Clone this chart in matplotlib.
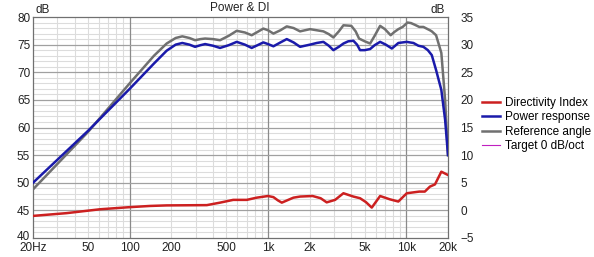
import matplotlib
matplotlib.use("Agg")
import matplotlib.pyplot as plt
from matplotlib.lines import Line2D
from matplotlib.transforms import ScaledTranslation

plt.rcParams['font.family'] = ['Liberation Sans', 'DejaVu Sans']

# Power response (left axis, dB)
pw_f = [20, 50, 100, 150, 185, 215, 240, 270, 297, 325, 351, 400, 450, 520, 594, 680, 762, 840, 925, 1000, 1094, 1230, 1366, 1530,
        1705, 1850, 2013, 2250, 2513, 2750, 2968, 3250, 3508, 3800, 4140, 4400, 4625, 5000, 5470, 5900, 6460, 7100, 7850, 8300, 8750,
        9400, 10070, 10600, 11250, 12220, 13280, 14300, 15270, 16400, 17900, 19060, 20000]
pw_db = [50.0, 59.4, 67.0, 71.6, 73.9, 75.0, 75.3, 75.0, 74.6, 74.9, 75.1, 74.8, 74.4, 74.9, 75.5, 75.0, 74.4, 74.9, 75.4, 75.1, 74.7, 75.4, 76.0, 75.4,
         74.6, 74.8, 75.0, 75.3, 75.5, 74.8, 74.0, 74.6, 75.2, 75.6, 75.7, 75.0, 74.0, 74.0, 74.2, 74.9, 75.5, 75.0, 74.3, 74.8, 75.3,
         75.4, 75.5, 75.4, 75.3, 74.8, 74.6, 74.0, 73.1, 70.4, 66.8, 61.4, 55.0]

# Reference angle (left axis, dB)
ref_f = [20, 50, 100, 150, 185, 215, 240, 270, 297, 325, 351, 400, 450, 520, 594, 680, 762, 840, 925, 1000, 1094, 1230, 1366, 1530,
         1705, 1850, 2013, 2250, 2513, 2750, 2968, 3250, 3508, 4000, 4300, 4550, 5000, 5470, 5900, 6460, 7000, 7700, 8200, 8750,
         9400, 10200, 10800, 11500, 12400, 13280, 14800, 15270, 16400, 17900, 19060, 20000]
ref_db = [48.8, 59.2, 68.0, 73.0, 75.2, 76.2, 76.5, 76.2, 75.8, 76.0, 76.1, 76.0, 75.8, 76.6, 77.5, 77.2, 76.7, 77.3, 77.9, 77.6, 77.0, 77.6, 78.3, 78.0,
          77.4, 77.6, 77.8, 77.6, 77.4, 76.9, 76.3, 77.4, 78.5, 78.4, 77.4, 76.1, 75.6, 75.2, 76.6, 78.4, 77.8, 76.7, 77.3, 77.8,
          78.2, 79.0, 78.9, 78.6, 78.2, 78.2, 77.6, 77.4, 76.7, 73.5, 65.0, 55.0]

# Directivity index (right axis, dB)
di_f = [20, 35, 61, 97, 140, 185, 361, 450, 560, 702, 828, 1000, 1094, 1180, 1258, 1400, 1526, 1705, 2100, 2400, 2655, 3054, 3508,
        4140, 4625, 5100, 5623, 6460, 7600, 8750, 10070, 12400, 13600, 14800, 16100, 17900, 20000]
di_db = [-1.0, -0.5, 0.2, 0.56, 0.8, 0.9, 0.95, 1.4, 1.9, 1.9, 2.3, 2.6, 2.4, 1.8, 1.4, 1.9, 2.3, 2.5, 2.6, 2.2, 1.45, 1.9, 3.1,
         2.5, 2.2, 1.5, 0.5, 2.6, 2.0, 1.6, 3.1, 3.4, 3.4, 4.3, 4.7, 7.0, 6.4]

x_ticks = [20, 50, 100, 200, 500, 1000, 2000, 5000, 10000, 20000]
x_labels = ['20Hz', '50', '100', '200', '500', '1k', '2k', '5k', '10k', '20k']
left_ticks = [40, 45, 50, 55, 60, 65, 70, 75, 80]
right_ticks = [-5, 0, 5, 10, 15, 20, 25, 30, 35]

W, H = 594, 257
fig = plt.figure(figsize=(W / 100, H / 100), dpi=100)
L, R, T, B = 33, 448, 17, 238
ax = fig.add_axes([L / W, 1 - B / H, (R - L) / W, (B - T) / H])
ax.set_xscale('log')
ax.set_xlim(20, 20000)
ax.set_ylim(40, 80)

# grid
minor_col = '#dcdcdc'
for d in [10, 100, 1000, 10000]:
    for m in range(2, 10):
        f = d * m
        if 20 < f < 20000:
            ax.axvline(f, color=minor_col, lw=0.8, zorder=0)
for f in [100, 1000, 10000]:
    ax.axvline(f, color='#8a8a8a', lw=0.9, zorder=0.5)
for v in range(41, 80):
    if v % 5:
        ax.axhline(v, color=minor_col, lw=0.8, zorder=0)
    else:
        ax.axhline(v, color='#a0a0a0', lw=0.9, zorder=0.5)

ax.set_xticks(x_ticks)
ax.set_xticklabels(x_labels)
ax.xaxis.set_minor_locator(matplotlib.ticker.NullLocator())
ax.set_yticks(left_ticks)
ax.tick_params(axis='both', length=0, labelsize=8.5, colors='#222222')
ax.tick_params(axis='x', pad=3)
ax.tick_params(axis='y', pad=2)
for s in ax.spines.values():
    s.set_color('#707070')
    s.set_linewidth(0.9)

ax2 = ax.twinx()
ax2.set_ylim(-5, 35)
ax2.set_yticks(right_ticks)
ax2.tick_params(axis='y', length=0, labelsize=8.5, colors='#222222', pad=9)
for s in ax2.spines.values():
    s.set_visible(False)

# nudge the bottom tick labels up a little (as in the reference)
up = ScaledTranslation(0, 3 / 100, fig.dpi_scale_trans)
t0 = ax.yaxis.get_major_ticks()[0]
t0.label1.set_transform(t0.label1.get_transform() + up)
r0 = ax2.yaxis.get_major_ticks()[0]
r0.label2.set_transform(r0.label2.get_transform() + ScaledTranslation(0, 1 / 100, fig.dpi_scale_trans))

lw = 1.8
c_di = '#cc2020'
c_pw = '#1a1aaa'
c_ref = '#707070'
c_tg = '#c020c0'
ax.plot(ref_f, ref_db, color=c_ref, lw=lw, zorder=3, solid_joinstyle='round')
ax.plot(pw_f, pw_db, color=c_pw, lw=lw, zorder=4, solid_joinstyle='round')
ax2.plot(di_f, di_db, color=c_di, lw=lw, zorder=5, solid_joinstyle='round')

fig.text(240 / W, 1 - 8 / H, 'Power & DI', ha='center', va='center', fontsize=8.5, color='#222222')
fig.text(35 / W, 1 - 10 / H, 'dB', ha='left', va='center', fontsize=8.5, color='#222222')
fig.text(445 / W, 1 - 10 / H, 'dB', ha='right', va='center', fontsize=8.5, color='#222222')

handles = [Line2D([], [], color=c_di, lw=lw), Line2D([], [], color=c_pw, lw=lw),
           Line2D([], [], color=c_ref, lw=lw), Line2D([], [], color=c_tg, lw=0.8)]
labels = ['Directivity Index', 'Power response', 'Reference angle', 'Target 0 dB/oct']
fig.legend(handles, labels, loc='upper left', bbox_to_anchor=(482 / W, 1 - 97 / H), frameon=False,
           fontsize=8.5, handlelength=1.5, handletextpad=0.45, labelspacing=0.2, borderpad=0, borderaxespad=0)

fig.savefig('out.png', dpi=100)
